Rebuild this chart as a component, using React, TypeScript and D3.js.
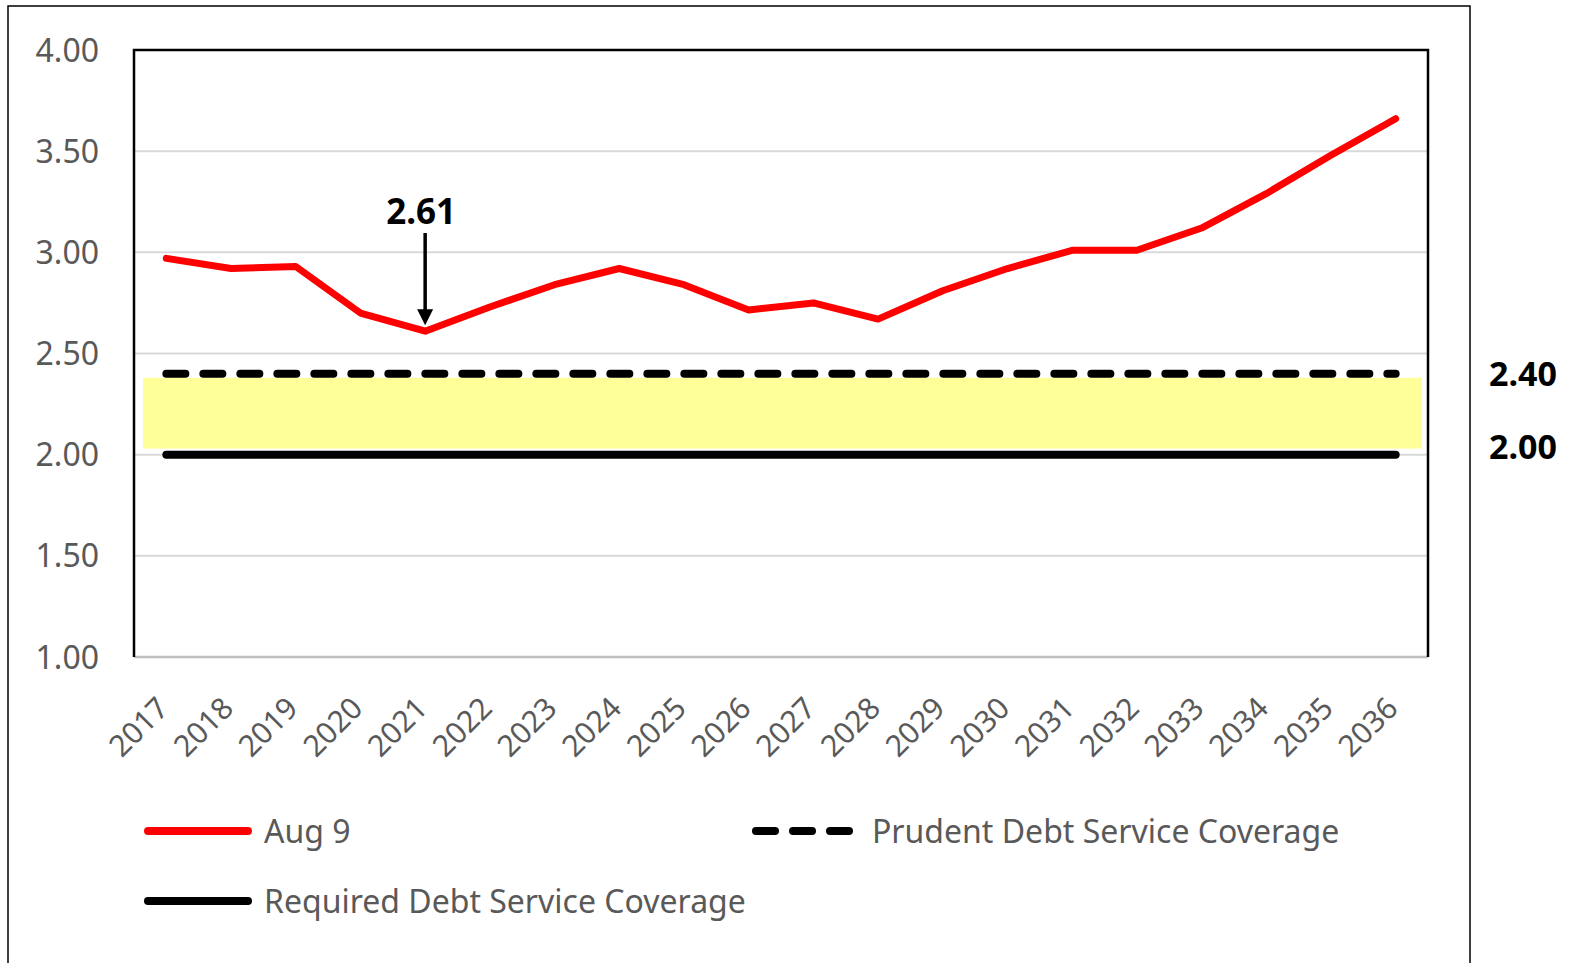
import React, { useRef, useEffect } from "react";
import * as d3 from "d3";

const years = [
    "2017", "2018", "2019", "2020", "2021", "2022", "2023", "2024", "2025", "2026",
    "2027", "2028", "2029", "2030", "2031", "2032", "2033", "2034", "2035", "2036",
];
const aug9 = [
    2.97, 2.92, 2.93, 2.70, 2.61, 2.73, 2.84, 2.92, 2.84, 2.715,
    2.75, 2.67, 2.81, 2.92, 3.01, 3.01, 3.12, 3.29, 3.48, 3.66,
];
const prudent = 2.40;
const required = 2.00;
const bandRange = [2.03, 2.38];
const yTicks = [1.0, 1.5, 2.0, 2.5, 3.0, 3.5, 4.0];
const callout = { year: "2021", label: "2.61" };
const rightLabels = [
    { value: prudent, label: "2.40" },
    { value: required, label: "2.00" },
];
const legendItems = [
    { label: "Aug 9", color: "#ff0000", dash: null, row: 0, col: 0 },
    { label: "Prudent Debt Service Coverage", color: "#000", dash: "19,18", row: 0, col: 1 },
    { label: "Required Debt Service Coverage", color: "#000", dash: null, row: 1, col: 0 },
];

export default function App() {
    const svgRef = useRef(null);

    useEffect(() => {
        const width = 1585;
        const height = 963;
        const margin = { top: 50, right: 157, bottom: 306, left: 134 };
        const font = "'Noto Sans', 'Open Sans', sans-serif";
        const grey = "#595959";

        const svg = d3.select(svgRef.current)
            .attr("width", width)
            .attr("height", height);
        svg.selectAll("*").remove();

        const x = d3.scaleBand()
            .domain(years)
            .range([margin.left, width - margin.right]);
        const cx = (d: string) => (x(d) as number) + x.bandwidth() / 2;

        const y = d3.scaleLinear()
            .domain([1, 4])
            .range([height - margin.bottom, margin.top]);

        // outer chart frame
        svg.append("rect")
            .attr("x", 8).attr("y", 6)
            .attr("width", 1462).attr("height", 1000)
            .attr("fill", "#fff")
            .attr("stroke", "#000")
            .attr("stroke-width", 1.5);

        // gridlines
        svg.append("g")
            .selectAll("line")
            .data(yTicks.filter(t => t > 1 && t < 4))
            .join("line")
            .attr("x1", margin.left).attr("x2", width - margin.right)
            .attr("y1", d => y(d)).attr("y2", d => y(d))
            .attr("stroke", "#d9d9d9")
            .attr("stroke-width", 2);

        // yellow band between required and prudent
        svg.append("rect")
            .attr("x", margin.left + 9)
            .attr("width", width - margin.right - margin.left - 15)
            .attr("y", y(bandRange[1]))
            .attr("height", y(bandRange[0]) - y(bandRange[1]))
            .attr("fill", "#ffff99");

        // axis line (bottom)
        svg.append("line")
            .attr("x1", margin.left).attr("x2", width - margin.right)
            .attr("y1", y(1)).attr("y2", y(1))
            .attr("stroke", "#bfbfbf")
            .attr("stroke-width", 2.5);

        // plot border: left, top, right
        svg.append("path")
            .attr("d", `M${margin.left},${y(1)}V${y(4)}H${width - margin.right}V${y(1)}`)
            .attr("fill", "none")
            .attr("stroke", "#000")
            .attr("stroke-width", 2.5);

        // y labels
        svg.append("g")
            .selectAll("text")
            .data(yTicks)
            .join("text")
            .attr("x", 99)
            .attr("y", d => y(d))
            .attr("dy", "0.36em")
            .attr("text-anchor", "end")
            .attr("font-family", font)
            .attr("font-size", 32)
            .attr("fill", grey)
            .text(d => d.toFixed(2));

        // x labels
        svg.append("g")
            .selectAll("text")
            .data(years)
            .join("text")
            .attr("transform", d => `translate(${cx(d) + 4},${y(1) + 53}) rotate(-45)`)
            .attr("text-anchor", "end")
            .attr("font-family", font)
            .attr("font-size", 30)
            .attr("fill", grey)
            .text(d => d);

        const flat = (v: number) => years.map(yr => ({ yr, v }));
        const line = d3.line<{ yr: string; v: number }>()
            .x(d => cx(d.yr))
            .y(d => y(d.v));

        // required (solid black)
        svg.append("path")
            .datum(flat(required))
            .attr("d", line)
            .attr("fill", "none")
            .attr("stroke", "#000")
            .attr("stroke-width", 8)
            .attr("stroke-linecap", "round");

        // prudent (dashed black)
        svg.append("path")
            .datum(flat(prudent))
            .attr("d", line)
            .attr("fill", "none")
            .attr("stroke", "#000")
            .attr("stroke-width", 8)
            .attr("stroke-dasharray", "19,18")
            .attr("stroke-linecap", "round");

        // Aug 9 series
        svg.append("path")
            .datum(years.map((yr, i) => ({ yr, v: aug9[i] })))
            .attr("d", line)
            .attr("fill", "none")
            .attr("stroke", "#ff0000")
            .attr("stroke-width", 7)
            .attr("stroke-linejoin", "round")
            .attr("stroke-linecap", "round");

        // callout
        const calloutVal = aug9[years.indexOf(callout.year)];
        const ax = cx(callout.year);
        const tipY = y(calloutVal) - 6;
        svg.append("line")
            .attr("x1", ax).attr("x2", ax)
            .attr("y1", 233).attr("y2", tipY - 14)
            .attr("stroke", "#000")
            .attr("stroke-width", 3.5);
        svg.append("path")
            .attr("d", `M${ax - 8},${tipY - 16}L${ax + 8},${tipY - 16}L${ax},${tipY}Z`)
            .attr("fill", "#000");
        svg.append("text")
            .attr("x", ax - 4)
            .attr("y", 224)
            .attr("text-anchor", "middle")
            .attr("font-family", font)
            .attr("font-weight", "bold")
            .attr("font-size", 35)
            .attr("fill", "#000")
            .text(callout.label);

        // right-side labels
        svg.append("g")
            .selectAll("text")
            .data(rightLabels)
            .join("text")
            .attr("x", 1489)
            .attr("y", (d, i) => y(d.value) + (i === 0 ? 0 : -8))
            .attr("dy", "0.36em")
            .attr("font-family", font)
            .attr("font-weight", "bold")
            .attr("font-size", 34)
            .attr("fill", "#000")
            .text(d => d.label);

        // legend
        const legend = svg.append("g");
        legendItems.forEach(item => {
            const lx = item.col === 0 ? 148 : 756;
            const ly = 831 + item.row * 70;
            legend.append("line")
                .attr("x1", lx).attr("x2", lx + 100)
                .attr("y1", ly).attr("y2", ly)
                .attr("stroke", item.color)
                .attr("stroke-width", 8)
                .attr("stroke-linecap", "round")
                .attr("stroke-dasharray", item.dash ? "19,18" : null);
            legend.append("text")
                .attr("x", lx + 116)
                .attr("y", ly)
                .attr("dy", "0.36em")
                .attr("font-family", font)
                .attr("font-size", 32)
                .attr("fill", grey)
                .text(item.label);
        });
    }, []);

    return (
        <svg ref={svgRef} style={{ position: "absolute", left: 0, top: 0 }}></svg>
    );
}
